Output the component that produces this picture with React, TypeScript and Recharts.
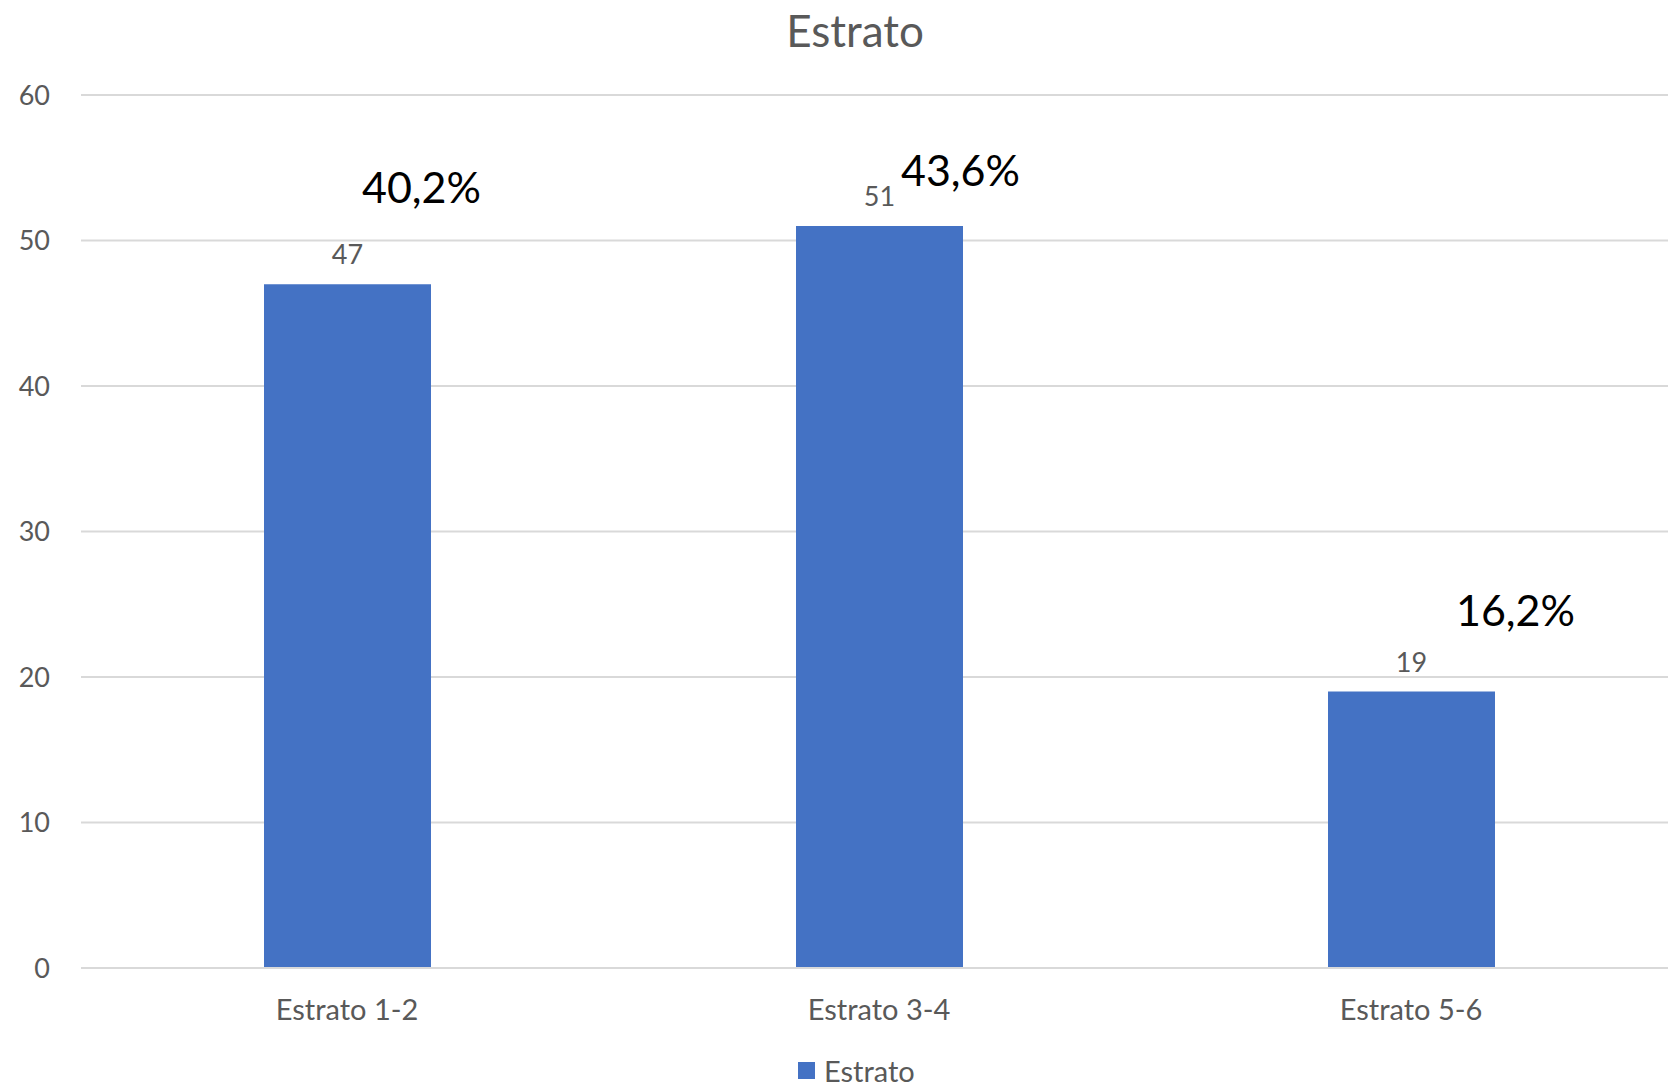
import { Bar, BarChart, CartesianGrid, LabelList, XAxis, YAxis } from "recharts";

const categories = ["Estrato 1-2", "Estrato 3-4", "Estrato 5-6"];
const counts = [47, 51, 19];
const shares = ["40,2%", "43,6%", "16,2%"];
const yTicks = [0, 10, 20, 30, 40, 50, 60];

// manual placement of the share labels, relative to each bar top (as in the source)
const shareOffsets = [
  { dx: 74, dy: -81 },
  { dx: 81, dy: -40 },
  { dx: 104, dy: -66 },
];

const rows = categories.map((name, i) => ({ name, count: counts[i], share: shares[i] }));

const font = "Lato, 'Noto Sans', sans-serif";
const grey = "#595959";

function ShareLabel(props: any) {
  const { x, y, width, index } = props;
  const o = shareOffsets[index] || { dx: 0, dy: -60 };
  return (
    <text x={x + width / 2 + o.dx} y={y + o.dy} textAnchor="middle" fontSize={43} fill="#000" fontFamily={font}>
      {shares[index]}
    </text>
  );
}

export default function App() {
  return (
    <div style={{ position: "absolute", left: 0, top: 0, width: 1668, height: 1087, overflow: "hidden", background: "#fff", fontFamily: font }}>
      <div style={{ position: "absolute", top: 4, left: 0, width: 1710, textAlign: "center", fontSize: 44, color: grey }}>Estrato</div>
      <BarChart width={1700} height={1087} data={rows} margin={{ top: 95, right: 23, left: 0, bottom: 59 }}>
        <CartesianGrid vertical={false} stroke="#d9d9d9" strokeWidth={2} />
        <XAxis
          dataKey="name"
          height={60}
          tickLine={false}
          axisLine={{ stroke: "#d9d9d9", strokeWidth: 2 }}
          tick={{ fill: grey, fontSize: 29, fontFamily: font }}
          tickMargin={25}
        />
        <YAxis
          width={81}
          domain={[0, 60]}
          ticks={yTicks}
          tickLine={false}
          axisLine={false}
          tick={{ fill: grey, fontSize: 27, fontFamily: font }}
          tickMargin={25}
        />
        <Bar dataKey="count" fill="#4472c4" barSize={167} isAnimationActive={false}>
          <LabelList dataKey="count" position="top" offset={20} fill={grey} fontSize={27} fontFamily={font} />
          <LabelList dataKey="share" content={ShareLabel} />
        </Bar>
      </BarChart>
      <div style={{ position: "absolute", top: 1053, left: 798, display: "flex", alignItems: "center", fontSize: 29, color: grey }}>
        <span style={{ display: "inline-block", width: 17, height: 17, background: "#4472c4", marginRight: 9 }} />
        Estrato
      </div>
    </div>
  );
}
